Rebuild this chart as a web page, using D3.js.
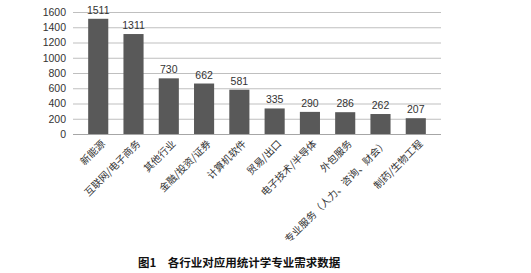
<!DOCTYPE html>
<html lang="zh">
<head>
<meta charset="UTF-8">
<title>各行业对应用统计学专业需求数据</title>
<style>
  body { margin: 0; background: #fff; }
  svg { display: block; }
  .tick text { font-family: "Liberation Sans", Arial, sans-serif; font-size: 10.5px; fill: #333; }
  .val { font-family: "Liberation Sans", Arial, sans-serif; font-size: 10.5px; fill: #333; }
  .cat { font-family: "Noto Sans CJK SC", sans-serif; font-size: 10px; fill: #333; }
  .caption { font-family: "Noto Sans CJK SC", sans-serif; font-size: 11.5px; font-weight: bold; fill: #111; }
</style>
</head>
<body>
<div id="chart"></div>
<script src="https://d3js.org/d3.v7.min.js"></script>
<script>
const categories = ["新能源", "互联网/电子商务", "其他行业", "金融/投资/证券", "计算机软件",
  "贸易/出口", "电子技术/半导体", "外包服务", "专业服务（人力、咨询、财会）", "制药/生物工程"];
const values = [1511, 1311, 730, 662, 581, 335, 290, 286, 262, 207];
const yTicks = [0, 200, 400, 600, 800, 1000, 1200, 1400, 1600];

const width = 531, height = 273;
const margin = { left: 73, right: 90, top: 12, bottom: 139 };

const svg = d3.select("#chart").append("svg")
  .attr("width", width)
  .attr("height", height);

const x = d3.scaleBand()
  .domain(categories)
  .range([margin.left, width - margin.right])
  .padding(0.43);

const y = d3.scaleLinear()
  .domain([0, 1600])
  .range([height - margin.bottom, margin.top]);

// gridlines
svg.append("g")
  .selectAll("line")
  .data(yTicks)
  .enter().append("line")
  .attr("x1", margin.left)
  .attr("x2", width - margin.right)
  .attr("y1", d => y(d) + 0.5)
  .attr("y2", d => y(d) + 0.5)
  .attr("stroke", d => d === 0 ? "#a6a6a6" : "#bfbfbf")
  .attr("stroke-width", 1);

// y axis labels only
const yAxis = svg.append("g")
  .attr("transform", `translate(${margin.left},0)`)
  .call(d3.axisLeft(y).tickValues(yTicks).tickFormat(d3.format("d")).tickSize(0).tickPadding(7));
yAxis.select(".domain").remove();

// bars
svg.append("g")
  .selectAll("rect")
  .data(values)
  .enter().append("rect")
  .attr("x", (d, i) => x(categories[i]))
  .attr("y", d => y(d))
  .attr("width", x.bandwidth())
  .attr("height", d => y(0) - y(d))
  .attr("fill", "#595959");

// value labels
svg.append("g")
  .selectAll("text")
  .data(values)
  .enter().append("text")
  .attr("class", "val")
  .attr("x", (d, i) => x(categories[i]) + x.bandwidth() / 2)
  .attr("y", d => y(d) - 5)
  .attr("text-anchor", "middle")
  .text(d => d);

// category labels, rotated
svg.append("g")
  .selectAll("text")
  .data(categories)
  .enter().append("text")
  .attr("class", "cat")
  .attr("text-anchor", "end")
  .attr("transform", d => `translate(${x(d) + x.bandwidth() / 2 + 5},${y(0) + 8}) rotate(-45)`)
  .attr("dy", "0.35em")
  .text(d => d);

// caption
svg.append("text")
  .attr("class", "caption")
  .attr("x", 138)
  .attr("y", 267)
  .text("图1\u2003各行业对应用统计学专业需求数据");
</script>
</body>
</html>
